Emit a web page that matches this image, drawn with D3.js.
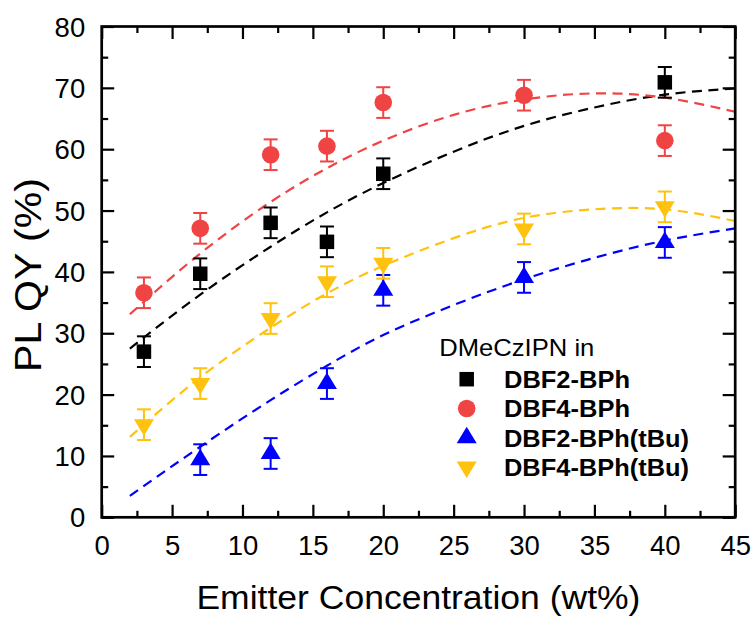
<!DOCTYPE html>
<html>
<head>
<meta charset="utf-8">
<script src="https://cdn.jsdelivr.net/npm/d3@7"></script>
<style>
  html, body { margin: 0; padding: 0; background: #fff; }
  svg { display: block; font-family: Arial, "Liberation Sans", sans-serif; }
</style>
</head>
<body>
<svg id="chart" width="754" height="618"></svg>
<script>
// ---------- data ----------
const seriesNames = ["DBF2-BPh", "DBF4-BPh", "DBF2-BPh(tBu)", "DBF4-BPh(tBu)"];
const seriesColors = ["#000000", "#F04444", "#0000FF", "#FFC20E"];
const seriesShapes = ["square", "circle", "up", "down"];

const x_DBF2 = [3, 7, 12, 16, 20, 40];
const y_DBF2 = [27.0, 39.7, 48.0, 44.9, 56.0, 70.9];
const e_DBF2 = [2.5, 2.5, 2.5, 2.5, 2.5, 2.5];

const x_DBF4 = [3, 7, 12, 16, 20, 30, 40];
const y_DBF4 = [36.6, 47.1, 59.1, 60.5, 67.6, 68.8, 61.4];
const e_DBF4 = [2.5, 2.5, 2.5, 2.5, 2.5, 2.5, 2.5];

const x_DBF2t = [7, 12, 16, 20, 30, 40];
const y_DBF2t = [9.4, 10.4, 21.8, 37.0, 39.1, 44.8];
const e_DBF2t = [2.5, 2.5, 2.5, 2.5, 2.5, 2.5];

const x_DBF4t = [3, 7, 12, 16, 20, 30, 40];
const y_DBF4t = [15.1, 21.8, 32.4, 38.4, 41.4, 47.0, 50.6];
const e_DBF4t = [2.5, 2.5, 2.5, 2.5, 2.5, 2.5, 2.5];

// fitted (dashed) curves
const fitX = [2, 7, 12, 16, 20, 25, 30, 35, 40, 45];
const fit_DBF2  = [27.5, 36.3, 44.1, 49.7, 54.5, 59.6, 63.8, 66.8, 68.9, 69.9];
const fit_DBF4  = [33.1, 43.0, 51.4, 56.9, 61.4, 65.6, 68.1, 69.1, 68.4, 66.1];
const fit_DBF2t = [3.5, 11.5, 19.1, 24.7, 29.7, 34.6, 38.8, 42.3, 45.1, 47.1];
const fit_DBF4t = [13.1, 22.8, 30.9, 36.5, 41.0, 45.5, 48.8, 50.2, 50.2, 48.3];

const xTicks = [0, 5, 10, 15, 20, 25, 30, 35, 40, 45];
const yTicks = [0, 10, 20, 30, 40, 50, 60, 70, 80];
const xTitle = "Emitter Concentration (wt%)";
const yTitle = "PL QY (%)";
const legendTitle = "DMeCzIPN in";

// ---------- layout ----------
const svg = d3.select("#chart");
const L = 101.7, R = 735.2, T = 26.5, B = 517.3;
const x = d3.scaleLinear().domain([0, 45]).range([L, R]);
const y = d3.scaleLinear().domain([0, 80]).range([B, T]);

const series = [
  {xs: x_DBF2, ys: y_DBF2, es: e_DBF2, fit: fit_DBF2},
  {xs: x_DBF4, ys: y_DBF4, es: e_DBF4, fit: fit_DBF4},
  {xs: x_DBF2t, ys: y_DBF2t, es: e_DBF2t, fit: fit_DBF2t},
  {xs: x_DBF4t, ys: y_DBF4t, es: e_DBF4t, fit: fit_DBF4t}
].map((s, i) => ({...s, name: seriesNames[i], color: seriesColors[i], shape: seriesShapes[i]}));

// clip for fits
svg.append("defs").append("clipPath").attr("id", "plotclip")
  .append("rect").attr("x", L).attr("y", T).attr("width", R - L).attr("height", B - T);

// ---------- fit curves ----------
const line = d3.line().x(d => x(d[0])).y(d => y(d[1])).curve(d3.curveNatural);
const fitG = svg.append("g").attr("clip-path", "url(#plotclip)");
series.forEach(s => {
  fitG.append("path")
    .attr("d", line(fitX.map((v, i) => [v, s.fit[i]])))
    .attr("fill", "none")
    .attr("stroke", s.color)
    .attr("stroke-width", 2.2)
    .attr("stroke-dasharray", "10,6.5");
});

// ---------- markers ----------
function drawShape(g, shape, cx, cy, color) {
  if (shape === "square") {
    const a = 14.5;
    g.append("rect").attr("x", cx - a / 2).attr("y", cy - a / 2).attr("width", a).attr("height", a).attr("fill", color);
  } else if (shape === "circle") {
    g.append("circle").attr("cx", cx).attr("cy", cy).attr("r", 8.8).attr("fill", color);
  } else if (shape === "up") {
    const w = 20, h = 16.5;
    g.append("path").attr("d", `M${cx},${cy - 2 * h / 3}L${cx + w / 2},${cy + h / 3}L${cx - w / 2},${cy + h / 3}Z`).attr("fill", color);
  } else {
    const w = 20, h = 16.5;
    g.append("path").attr("d", `M${cx},${cy + 2 * h / 3}L${cx + w / 2},${cy - h / 3}L${cx - w / 2},${cy - h / 3}Z`).attr("fill", color);
  }
}

series.forEach(s => {
  const g = svg.append("g");
  s.xs.forEach((xv, i) => {
    const cx = x(xv);
    const yt = y(s.ys[i] + s.es[i]), yb = y(s.ys[i] - s.es[i]);
    const eg = g.append("g").attr("stroke", s.color).attr("stroke-width", 2);
    eg.append("line").attr("x1", cx).attr("x2", cx).attr("y1", yt).attr("y2", yb);
    eg.append("line").attr("x1", cx - 7).attr("x2", cx + 7).attr("y1", yt).attr("y2", yt);
    eg.append("line").attr("x1", cx - 7).attr("x2", cx + 7).attr("y1", yb).attr("y2", yb);
    drawShape(g, s.shape, cx, y(s.ys[i]), s.color);
  });
});

// ---------- axes ----------
const xMinor = d3.range(0, 45.01, 2.5).filter(v => v % 5 !== 0);
const yMinor = d3.range(0, 80.01, 5).filter(v => v % 10 !== 0);
const axW = 2.7;

function styleAxis(g) {
  g.select(".domain").remove();
  g.selectAll(".tick line").attr("stroke", "#000").attr("stroke-width", 2.2);
  g.selectAll("text").attr("font-size", 27.5).attr("fill", "#000")
    .attr("font-family", "Arial, 'Liberation Sans', sans-serif");
}

// bottom
svg.append("g").attr("transform", `translate(0,${B})`)
  .call(d3.axisBottom(x).tickValues(xTicks).tickSize(-12.5).tickPadding(20).tickFormat(d3.format("d")))
  .call(styleAxis)
  .call(g => g.selectAll("text").attr("dy", 0).attr("y", 38));
svg.append("g").attr("transform", `translate(0,${B})`)
  .call(d3.axisBottom(x).tickValues(xMinor).tickSize(-6.5).tickFormat(""))
  .call(styleAxis);
// top
svg.append("g").attr("transform", `translate(0,${T})`)
  .call(d3.axisTop(x).tickValues(xTicks).tickSize(-12.5).tickFormat(""))
  .call(styleAxis);
svg.append("g").attr("transform", `translate(0,${T})`)
  .call(d3.axisTop(x).tickValues(xMinor).tickSize(-6.5).tickFormat(""))
  .call(styleAxis);
// left
svg.append("g").attr("transform", `translate(${L},0)`)
  .call(d3.axisLeft(y).tickValues(yTicks).tickSize(-12.5).tickPadding(16.5).tickFormat(d3.format("d")))
  .call(styleAxis)
  .call(g => g.selectAll("text").attr("x", -16.5).attr("dy", "0.35em"));
svg.append("g").attr("transform", `translate(${L},0)`)
  .call(d3.axisLeft(y).tickValues(yMinor).tickSize(-6.5).tickFormat(""))
  .call(styleAxis);
// right
svg.append("g").attr("transform", `translate(${R},0)`)
  .call(d3.axisRight(y).tickValues(yTicks).tickSize(-12.5).tickFormat(""))
  .call(styleAxis);
svg.append("g").attr("transform", `translate(${R},0)`)
  .call(d3.axisRight(y).tickValues(yMinor).tickSize(-6.5).tickFormat(""))
  .call(styleAxis);

// frame
svg.append("rect").attr("x", L).attr("y", T).attr("width", R - L).attr("height", B - T)
  .attr("fill", "none").attr("stroke", "#000").attr("stroke-width", axW);

// ---------- titles ----------
svg.append("text").attr("x", (L + R) / 2).attr("y", 609)
  .attr("text-anchor", "middle").attr("font-size", 34)
  .attr("textLength", 444).attr("lengthAdjust", "spacingAndGlyphs")
  .text(xTitle);
svg.append("text").attr("transform", "translate(41,275) rotate(-90)")
  .attr("text-anchor", "middle").attr("font-size", 37)
  .attr("textLength", 194).attr("lengthAdjust", "spacingAndGlyphs")
  .text(yTitle);

// ---------- legend ----------
const lg = svg.append("g");
lg.append("text").attr("x", 439.3).attr("y", 355.7).attr("font-size", 24)
  .attr("textLength", 155).attr("lengthAdjust", "spacingAndGlyphs")
  .text(legendTitle);
const legendWidths = [126, 126, 185, 185];
series.forEach((s, i) => {
  const base = 388 + i * 29.3;
  drawShape(lg, s.shape, 466.7, base - 8.8, s.color);
  lg.append("text").attr("x", 504).attr("y", base)
    .attr("font-size", 24).attr("font-weight", "bold")
    .attr("textLength", legendWidths[i]).attr("lengthAdjust", "spacingAndGlyphs")
    .text(s.name);
});
</script>
</body>
</html>
